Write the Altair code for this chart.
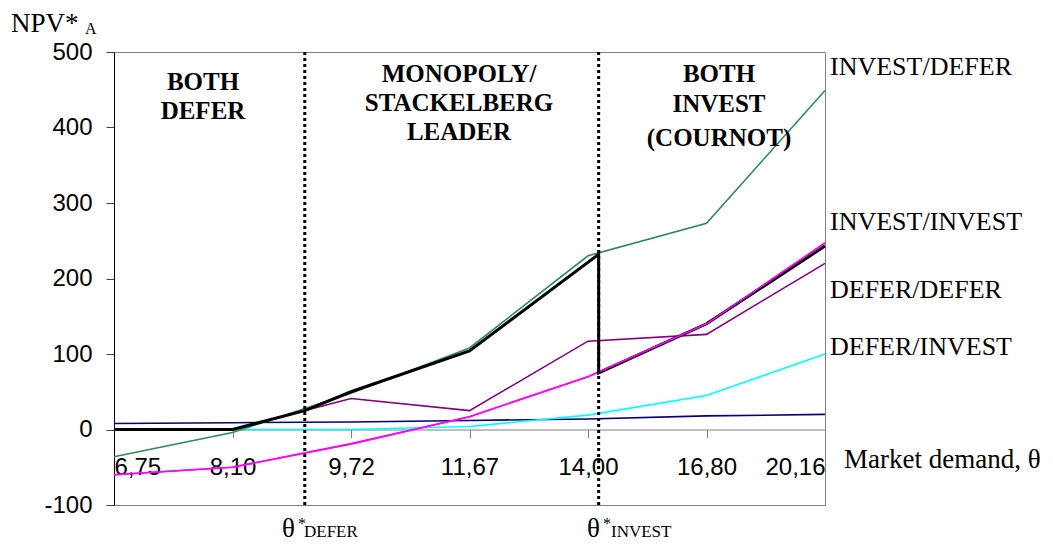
import altair as alt
import pandas as pd

# ---------------- data ----------------
categories = ["6,75", "8,10", "9,72", "11,67", "14,00", "16,80", "20,16"]
cat_index = [0, 1, 2, 3, 4, 5, 6]
y_ticks = [-100, 0, 100, 200, 300, 400, 500]

invest_defer = [-36, -4, 48, 108, 230, 273, 449]
defer_defer = [0, 0, 41, 25, 117, 126, 220]
invest_invest = [-60, -50, -19, 17, 70, 140, 247]
defer_invest = [0, 0, 0, 4, 19, 45, 100]
navy_series = [8, 9, 10, 12, 14, 18, 20]

# equilibrium (thick black) path, positions on the category index scale
theta_defer = 1.61
theta_invest = 4.09
equilibrium_x = [0, 1, theta_defer, 2, 3, theta_invest, theta_invest, 5, 6]
equilibrium_y = [0, 0, 25, 50, 104, 232, 75, 140, 243]

thresholds = [theta_defer, theta_invest]

series_names = ["NAVY", "DEFER/INVEST", "DEFER/DEFER", "INVEST/DEFER", "INVEST/INVEST"]
series_values = [navy_series, defer_invest, defer_defer, invest_defer, invest_invest]
series_colors = ["#000080", "#00FFFF", "#800080", "#2E8B57", "#FF00FF"]

rows = []
for name, vals in zip(series_names, series_values):
    for i, v in zip(cat_index, vals):
        rows.append({"series": name, "x": i, "y": v, "order": i})
lines_df = pd.DataFrame(rows)

eq_df = pd.DataFrame({"x": equilibrium_x, "y": equilibrium_y,
                      "order": list(range(len(equilibrium_x)))})
thr_df = pd.DataFrame({"x": thresholds})

# ---------------- layout ----------------
W, H = 711, 453
YMIN, YMAX = -100, 500
zero_offset = -(H * (0 - YMIN) / (YMAX - YMIN))

xscale = alt.Scale(domain=[0, 6], nice=False, zero=False)
yscale = alt.Scale(domain=[YMIN, YMAX], nice=False, zero=False)

label_expr = "[" + ",".join("'%s'" % c for c in categories) + "][datum.value]"

xaxis = alt.Axis(values=cat_index, labelExpr=label_expr, offset=zero_offset,
                 labelFlush=True, labelFont="Liberation Sans", labelFontSize=24,
                 labelColor="black", labelBaseline="middle", labelPadding=30,
                 tickSize=8, tickColor="#808080", domainColor="#808080",
                 grid=False, title="", labelOverlap=False)
yaxis = alt.Axis(values=y_ticks, labelExpr="'' + datum.value",
                 labelFont="Liberation Sans", labelFontSize=24, labelColor="black",
                 tickSize=8, tickColor="#404040", domainColor="black",
                 labelPadding=14, grid=False, title="", labelOverlap=False)

X = alt.X("x:Q", scale=xscale, axis=xaxis)
Y = alt.Y("y:Q", scale=yscale, axis=yaxis)

lines = alt.Chart(lines_df).mark_line(strokeWidth=1.6).encode(
    x=X, y=Y,
    color=alt.Color("series:N", scale=alt.Scale(domain=series_names, range=series_colors),
                    legend=None),
    detail="series:N",
    order="order:Q",
)

magenta_top = alt.Chart(lines_df[lines_df.series == "INVEST/INVEST"]).mark_line(
    strokeWidth=1.6, color="#FF00FF").encode(x=X, y=Y, order="order:Q")

eq_line = alt.Chart(eq_df).mark_line(strokeWidth=3, color="black").encode(
    x=X, y=Y, order="order:Q")

rules = alt.Chart(thr_df).mark_rule(color="black", strokeWidth=3,
                                    strokeDash=[3, 3]).encode(
    x=X,
    y=alt.value(0),
    y2=alt.value(H + 2),
)


def label(text, px, py, size, font="Liberation Serif", weight="normal",
          align="left", line_height=None):
    kw = dict(text=text, font=font, fontSize=size, fontWeight=weight,
              align=align, baseline="alphabetic", color="black")
    if line_height:
        kw["lineHeight"] = line_height
        kw["lineBreak"] = "\n"
    # px, py are page coordinates; plot origin is at (114, 52)
    return alt.Chart(pd.DataFrame({"a": [0]})).mark_text(**kw).encode(
        x=alt.value(px - 114), y=alt.value(py - 52))


texts = [
    label("BOTH\nDEFER", 203, 90, 25, weight="bold", align="center", line_height=29),
    label("MONOPOLY/\nSTACKELBERG\nLEADER", 459, 82, 25, weight="bold",
          align="center", line_height=29),
    label("BOTH\nINVEST", 719, 82, 25, weight="bold", align="center", line_height=30),
    label("(COURNOT)", 719, 146, 25, weight="bold", align="center"),
    label("INVEST/DEFER", 830, 75, 26),
    label("INVEST/INVEST", 830, 230, 26),
    label("DEFER/DEFER", 830, 298, 26),
    label("DEFER/INVEST", 830, 355, 26),
    label("Market demand, θ", 844, 468, 27),
    label("NPV*", 11, 32, 27),
    label("A", 85, 34, 16),
    label("θ", 282, 537, 27),
    label("*", 298, 529, 16),
    label("DEFER", 304, 537, 17),
    label("θ", 587, 537, 27),
    label("*", 603, 529, 16),
    label("INVEST", 611, 537, 17),
]

chart = alt.layer(lines, eq_line, magenta_top, rules, *texts).properties(
    width=W, height=H,
    autosize=alt.AutoSizeParams(type="none"),
    padding={"left": 106, "top": 44, "right": 215, "bottom": 38},
).configure_view(stroke="#808080", strokeWidth=1)

chart.save("out.html", embed_options={"renderer": "svg", "actions": False})
